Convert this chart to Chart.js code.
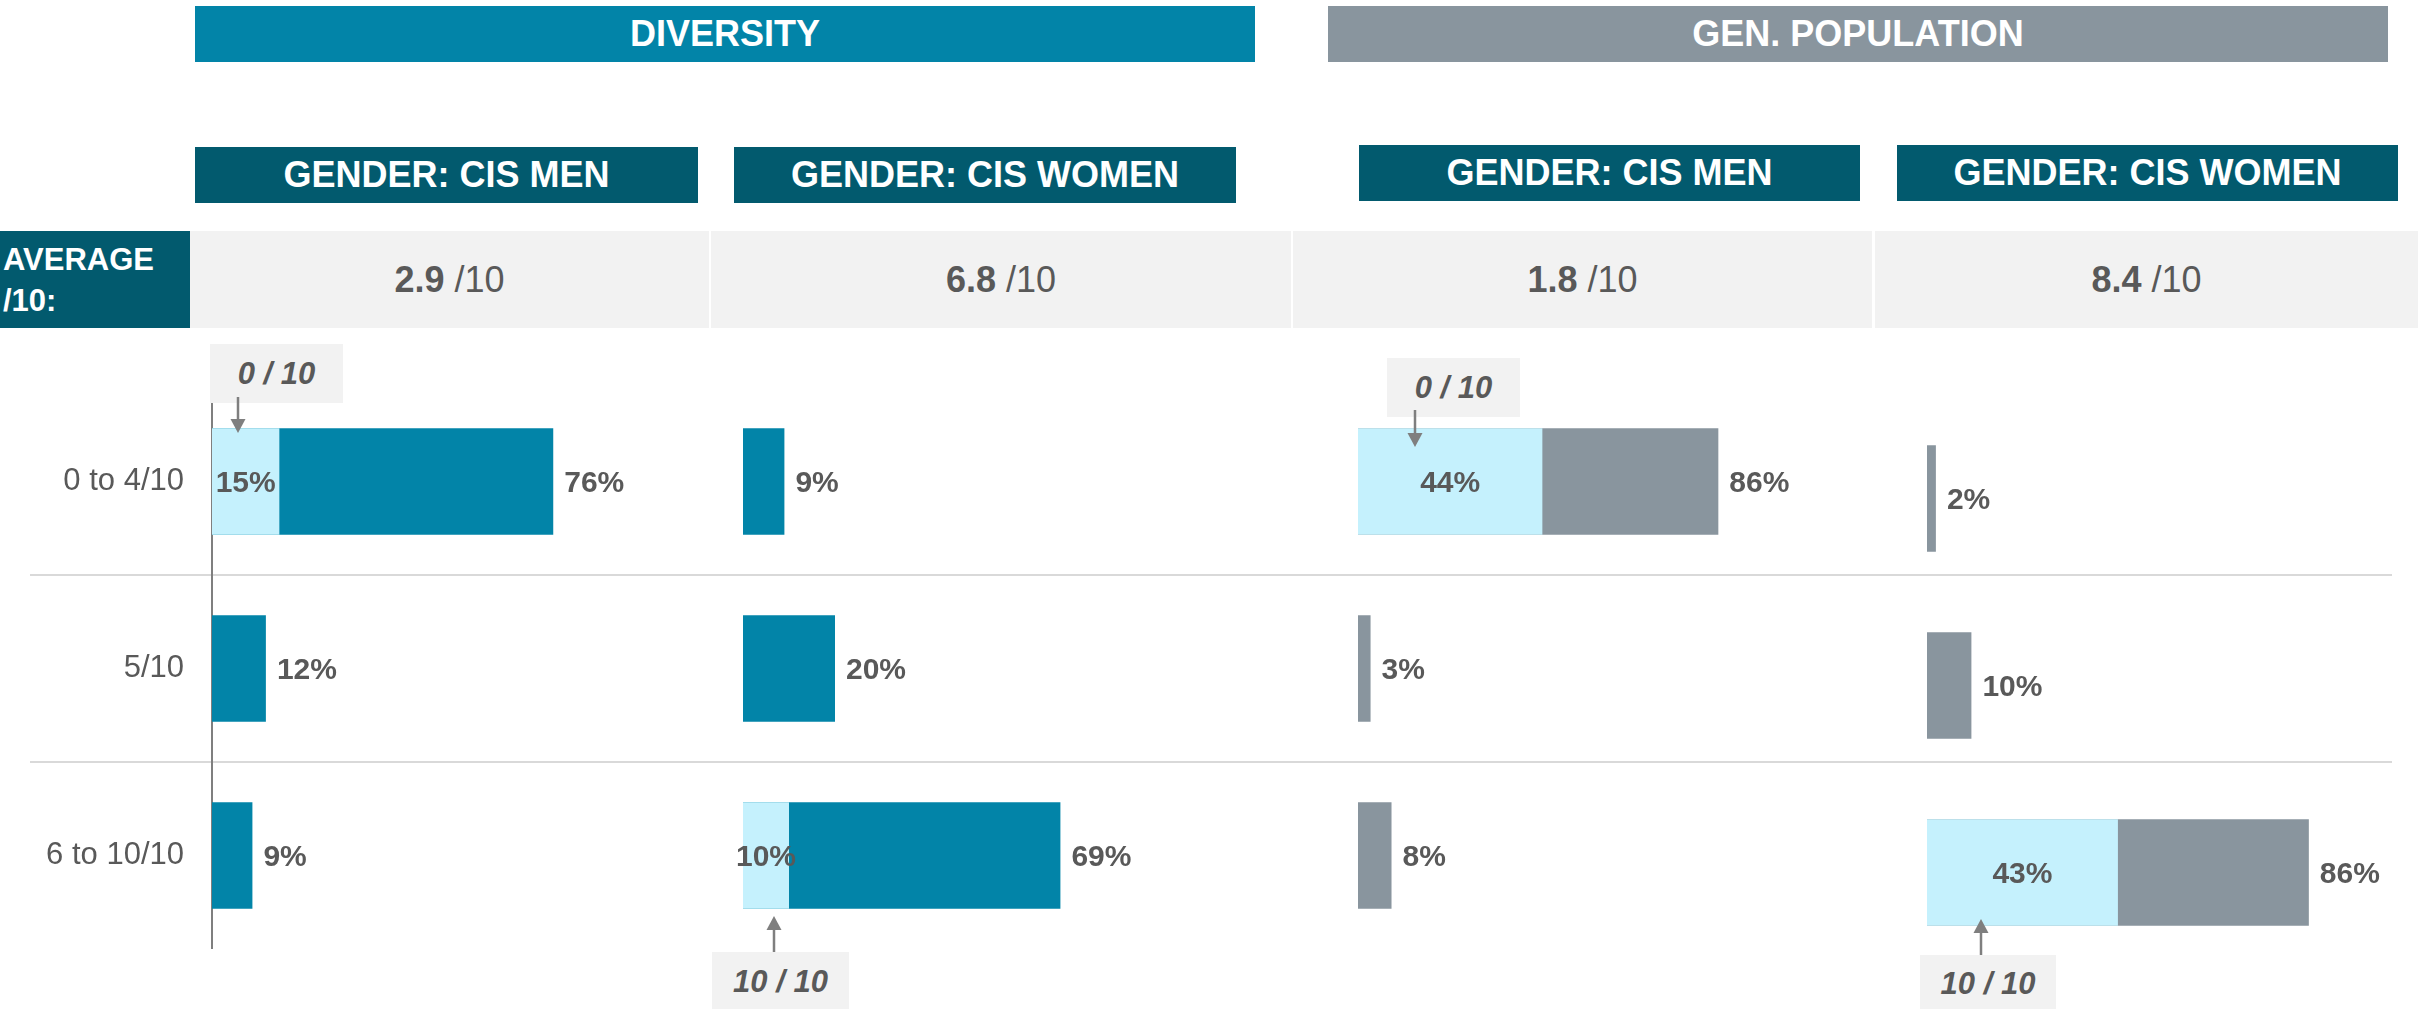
<!DOCTYPE html>
<html lang="en">
<head>
<meta charset="UTF-8">
<title>Average rating by gender</title>
<script src="https://cdn.jsdelivr.net/npm/chart.js"></script>
<style>
  body { margin: 0; width: 2430px; height: 1009px; overflow: hidden; background: #fff; position: relative;
         font-family: "Liberation Sans", Arial, sans-serif; }
  .blk { position: absolute; display: flex; align-items: center; justify-content: center;
         color: #fff; font-weight: bold; font-size: 36px; }
  .cell { background: #f2f2f2; color: #595959; font-weight: normal; }
  .note { background: #f2f2f2; color: #595959; font-style: italic; font-size: 31px; z-index: 5; }
  .wrap { position: absolute; height: 561px; }
  svg { position: absolute; left: 0; top: 0; z-index: 6; pointer-events: none; }
</style>
</head>
<body>
<script>
    // values
    var categories = ['0 to 4/10', '5/10', '6 to 10/10'];
    var groups = ['DIVERSITY', 'GEN. POPULATION'];
    var panelNames = ['GENDER: CIS MEN', 'GENDER: CIS WOMEN', 'GENDER: CIS MEN', 'GENDER: CIS WOMEN'];
    var averages = [2.9, 6.8, 1.8, 8.4];
    var divMen = [76, 12, 9];
    var divMenZero = [15, null, null];
    var divWomen = [9, 20, 69];
    var divWomenTen = [null, null, 10];
    var genMen = [86, 3, 8];
    var genMenZero = [44, null, null];
    var genWomen = [2, 10, 86];
    var genWomenTen = [null, null, 43];

    var teal = '#0284a8', grey = '#89959e', navy = '#025a6e', light = '#c5f1fd';
    var font = '"Liberation Sans", Arial, sans-serif';

    function block(cls, x, y, w, h, bg, html) {
        var d = document.createElement('div');
        d.className = 'blk ' + cls;
        d.style.left = x + 'px'; d.style.top = y + 'px';
        d.style.width = w + 'px'; d.style.height = h + 'px';
        if (bg) d.style.background = bg;
        d.innerHTML = html;
        document.body.appendChild(d);
        return d;
    }

    // headers
    block('', 195, 6, 1060, 56, teal, groups[0]);
    block('', 1328, 6, 1060, 56, grey, groups[1]);
    var subPos = [[195, 147, 503], [734, 147, 502], [1359, 145, 501], [1897, 145, 501]];
    subPos.forEach(function (p, i) { block('', p[0], p[1], p[2], 56, navy, panelNames[i]); });

    // average row
    var avg = block('', 0, 231, 187, 97, navy, 'AVERAGE<br>/10:');
    avg.style.justifyContent = 'flex-start';
    avg.style.fontSize = '31px'; avg.style.lineHeight = '41px'; avg.style.paddingLeft = '3px';
    var cellPos = [[190, 519], [711, 580], [1293, 579], [1875, 543]];
    cellPos.forEach(function (p, i) {
        block('cell', p[0], 231, p[1], 97, null, '<b>' + averages[i].toFixed(1) + '</b>&nbsp;/10');
    });

    // gridlines behind everything
    var gw = document.createElement('div');
    gw.className = 'wrap';
    gw.style.left = '30px'; gw.style.top = '388px'; gw.style.width = '2362px';
    var gc = document.createElement('canvas');
    gw.appendChild(gc); document.body.appendChild(gw);
    new Chart(gc, {
        type: 'bar',
        data: { labels: categories, datasets: [{ data: [null, null, null] }] },
        options: {
            indexAxis: 'y', responsive: true, maintainAspectRatio: false, animation: false,
            plugins: { legend: { display: false }, tooltip: { enabled: false } },
            scales: {
                x: { display: false },
                y: {
                    ticks: { display: false }, border: { display: false },
                    grid: {
                        offset: true, drawTicks: false, lineWidth: 2,
                        color: function (c) { return (c.index === 1 || c.index === 2) ? '#d9d9d9' : 'rgba(0,0,0,0)'; }
                    }
                }
            }
        }
    });

    var labelPlugin = {
        id: 'barLabels',
        afterDatasetsDraw: function (chart) {
            var ctx = chart.ctx;
            ctx.save();
            ctx.font = 'bold 30px ' + font;
            ctx.fillStyle = '#595959';
            ctx.textBaseline = 'middle';
            chart.getDatasetMeta(1).data.forEach(function (bar, i) {
                var v = chart.data.datasets[1].data[i];
                if (v == null) return;
                ctx.textAlign = 'left';
                ctx.fillText(v + '%', bar.x + 11, bar.y + 2);
            });
            chart.getDatasetMeta(0).data.forEach(function (bar, i) {
                var v = chart.data.datasets[0].data[i];
                if (v == null) return;
                ctx.textAlign = 'center';
                ctx.fillText(v + '%', (bar.x + bar.base) / 2, bar.y + 2);
            });
            ctx.restore();
        }
    };

    var panels = [
        { left: 212, width: 449, top: 388, color: teal, values: divMen, extreme: divMenZero, axis: true },
        { left: 743, width: 460, top: 388, color: teal, values: divWomen, extreme: divWomenTen },
        { left: 1358, width: 419, top: 388, color: grey, values: genMen, extreme: genMenZero },
        { left: 1927, width: 444, top: 405, color: grey, values: genWomen, extreme: genWomenTen }
    ];

    panels.forEach(function (p) {
        // the y scale reserves padL pixels on the left (labels only in the first panel)
        var padL = p.axis ? 180 : 10, padR = 120;
        var w = document.createElement('div');
        w.className = 'wrap';
        w.style.left = (p.left - padL) + 'px'; w.style.top = p.top + 'px';
        w.style.width = (padL + p.width + padR) + 'px';
        var cv = document.createElement('canvas');
        w.appendChild(cv); document.body.appendChild(w);
        new Chart(cv, {
            type: 'bar',
            data: {
                labels: categories,
                datasets: [
                    { data: p.extreme, backgroundColor: light, grouped: false, barPercentage: 0.57, categoryPercentage: 1 },
                    { data: p.values, backgroundColor: p.color, grouped: false, barPercentage: 0.57, categoryPercentage: 1 }
                ]
            },
            options: {
                indexAxis: 'y', responsive: true, maintainAspectRatio: false, animation: false,
                layout: { padding: { left: 0, right: padR, top: 0, bottom: 0 } },
                plugins: { legend: { display: false }, tooltip: { enabled: false } },
                scales: {
                    x: { display: false, min: 0, max: 100 },
                    y: {
                        display: !!p.axis,
                        afterFit: function (s) { s.width = padL; s.paddingTop = 0; s.paddingBottom = 0; },
                        grid: { display: false, drawTicks: false, tickLength: 0 },
                        border: { display: true, color: '#7f7f7f', width: 2 },
                        ticks: { padding: 28, color: '#595959', font: { size: 31, family: font } }
                    }
                }
            },
            plugins: [labelPlugin]
        });
    });

    // 0/10 and 10/10 call-outs
    block('note', 210, 344, 133, 59, null, '0 / 10');
    block('note', 1387, 358, 133, 59, null, '0 / 10');
    block('note', 712, 952, 137, 60, null, '10 / 10');
    block('note', 1920, 955, 136, 57, null, '10 / 10');

    var arrows = [[238, 397, 433], [1415, 410, 447], [774, 952, 916], [1981, 955, 919]];
    var svg = '<svg width="2430" height="1009">';
    arrows.forEach(function (a) {
        var dir = a[2] > a[1] ? 1 : -1;
        var neck = a[2] - dir * 14;
        svg += '<line x1="' + a[0] + '" y1="' + a[1] + '" x2="' + a[0] + '" y2="' + neck + '" stroke="#7f7f7f" stroke-width="2.5"/>';
        svg += '<polygon fill="#7f7f7f" points="' + (a[0] - 7.5) + ',' + neck + ' ' + (a[0] + 7.5) + ',' + neck + ' ' + a[0] + ',' + a[2] + '"/>';
    });
    svg += '</svg>';
    var holder = document.createElement('div');
    holder.innerHTML = svg;
    document.body.appendChild(holder.firstChild);
</script>
</body>
</html>
